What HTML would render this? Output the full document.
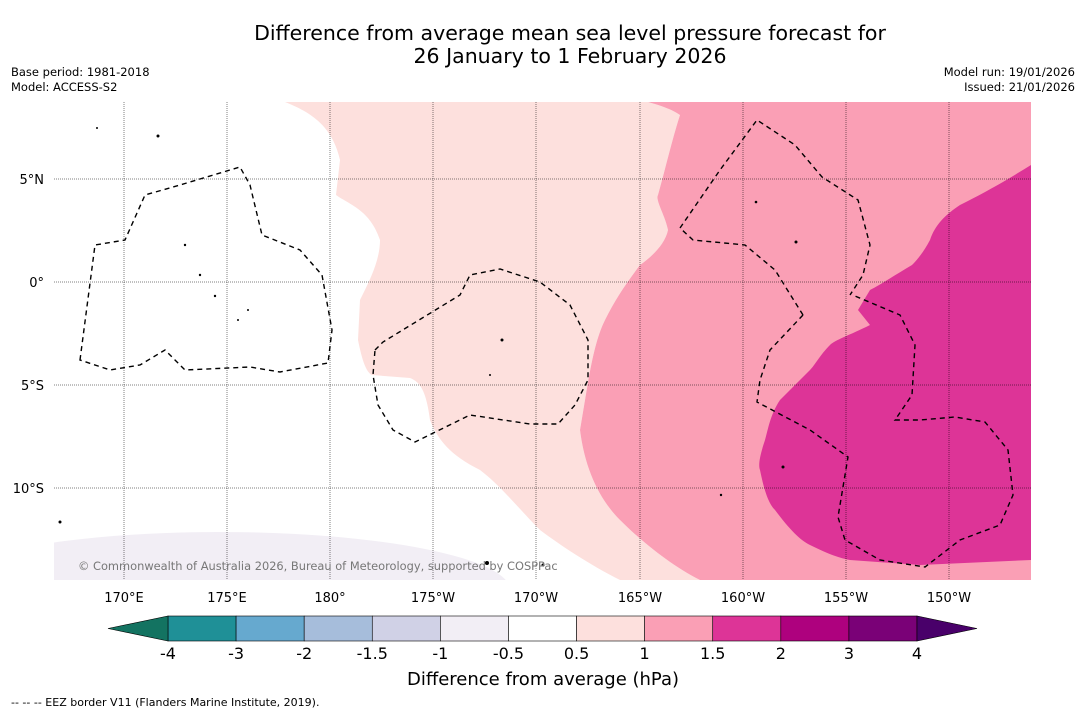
<!DOCTYPE html>
<html><head><meta charset="utf-8"><style>
body{margin:0;background:#fff;font-family:"Liberation Sans","DejaVu Sans",sans-serif;}
#wrap{position:relative;width:1085px;height:713px;overflow:hidden;background:#fff}
.t{position:absolute;white-space:nowrap;color:#000}
</style></head><body>
<div id="wrap">
<div class="t" style="left:0;width:1140px;top:22px;text-align:center;font-size:20.5px;line-height:23px;font-family:'DejaVu Sans',sans-serif">Difference from average mean sea level pressure forecast for<br>26 January to 1 February 2026</div>
<div class="t" style="left:11px;top:65px;font-size:11.5px;line-height:15px;font-family:'DejaVu Sans',sans-serif">Base period: 1981-2018<br>Model: ACCESS-S2</div>
<div class="t" style="right:10px;top:65px;font-size:11.5px;line-height:15px;text-align:right;font-family:'DejaVu Sans',sans-serif">Model run: 19/01/2026<br>Issued: 21/01/2026</div>
<svg id="map" width="1085" height="713" style="position:absolute;left:0;top:0" font-family="DejaVu Sans, sans-serif">
<defs><clipPath id="mc"><rect x="54" y="102" width="977" height="478"/></clipPath></defs>
<g clip-path="url(#mc)">
<rect x="54" y="102" width="977" height="478" fill="#fff"/>
<ellipse cx="220" cy="590" rx="290" ry="58" fill="#f2eef5"/>
<path fill="#fde0dd" d="M285,102 C310,112 332,125 340,160 L336,195 C350,205 370,210 380,240 C380,260 370,280 360,300 L358,340 C362,360 366,372 372,375 L410,378 C420,382 426,390 430,420 C438,440 450,455 480,470 C500,485 520,510 540,530 C560,545 590,565 620,580 L700,580 C670,565 640,540 620,520 C600,500 585,470 580,430 L585,400 C590,370 595,340 605,320 C615,300 625,285 640,265 C650,258 665,245 668,230 C665,215 655,200 658,195 C665,170 672,140 680,115 C670,108 655,104 648,102 Z"/>
<path fill="#fa9fb5" d="M648,102 L1031,102 L1031,580 L700,580 C670,565 640,540 620,520 C600,500 585,470 580,430 L585,400 C590,370 595,340 605,320 C615,300 625,285 640,265 C650,258 665,245 668,230 C665,215 655,200 658,195 C665,170 672,140 680,115 C670,108 655,104 648,102 Z"/>
<path fill="#dd3497" d="M1031,165 C1010,178 990,190 960,205 C945,215 935,225 930,240 C922,255 915,262 912,265 C895,275 880,285 870,290 L858,310 L870,325 C850,335 835,340 830,345 C820,355 815,365 810,370 C800,380 790,390 780,400 C770,415 768,430 765,440 C760,455 758,465 760,470 C765,495 770,505 775,510 C790,530 800,540 810,545 C830,555 840,558 850,560 L920,565 L1031,560 Z"/>
<g stroke="#000" stroke-width="0.5" stroke-dasharray="1,1" fill="none">
<line x1="124" y1="102" x2="124" y2="580"/><line x1="227" y1="102" x2="227" y2="580"/><line x1="330" y1="102" x2="330" y2="580"/><line x1="433" y1="102" x2="433" y2="580"/><line x1="536" y1="102" x2="536" y2="580"/><line x1="640" y1="102" x2="640" y2="580"/><line x1="743" y1="102" x2="743" y2="580"/><line x1="846" y1="102" x2="846" y2="580"/><line x1="949" y1="102" x2="949" y2="580"/>
<line x1="54" y1="179" x2="1031" y2="179"/><line x1="54" y1="282" x2="1031" y2="282"/><line x1="54" y1="385" x2="1031" y2="385"/><line x1="54" y1="488" x2="1031" y2="488"/>
</g>
<g stroke="#000" stroke-width="1.4" stroke-dasharray="5,4" fill="none">
<path d="M80,360 L95,245 L125,240 L145,195 L180,185 L240,167 L250,185 L262,235 L300,250 L322,275 L332,330 L328,363 L280,372 L250,367 L185,370 L165,350 L140,365 L110,370 Z"/>
<path d="M375,350 L383,342 L460,295 L470,275 L500,269 L540,282 L570,305 L588,340 L588,380 L575,405 L558,424 L530,424 L470,415 L415,442 L393,430 L378,405 L373,375 Z"/>
<path d="M803,315 L775,270 L745,245 L693,240 L680,228 L720,170 L757,120 L795,145 L822,177 L858,200 L870,245 L863,275 L850,295"/>
<path d="M803,315 L770,350 L760,380 L757,402 L810,430 L848,457 L838,517 L845,540 L880,560 L925,567 L960,540 L1000,525 L1013,495 L1008,450 L985,422 L955,417 L920,420 L895,420 L912,395 L915,345 L900,315 L855,296"/>
</g>
<g fill="#000">
<circle cx="185" cy="245" r="1.2"/><circle cx="200" cy="275" r="1.2"/><circle cx="215" cy="296" r="1.2"/><circle cx="238" cy="320" r="1"/><circle cx="248" cy="310" r="1"/><circle cx="158" cy="136" r="1.5"/><circle cx="97" cy="128" r="1"/><circle cx="502" cy="340" r="1.5"/><circle cx="490" cy="375" r="1"/><circle cx="756" cy="202" r="1.3"/><circle cx="796" cy="242" r="1.5"/><circle cx="783" cy="467" r="1.5"/><circle cx="721" cy="495" r="1.2"/><circle cx="60" cy="522" r="1.5"/><circle cx="487" cy="563" r="2"/><circle cx="543" cy="565" r="1.5"/>
</g>
<text x="78" y="570" font-size="11.4" fill="#777">© Commonwealth of Australia 2026, Bureau of Meteorology, supported by COSPPac</text>
</g>
<g font-size="13" fill="#000">
<text x="124" y="602" text-anchor="middle">170°E</text><text x="227" y="602" text-anchor="middle">175°E</text><text x="330" y="602" text-anchor="middle">180°</text><text x="433" y="602" text-anchor="middle">175°W</text><text x="536" y="602" text-anchor="middle">170°W</text><text x="640" y="602" text-anchor="middle">165°W</text><text x="743" y="602" text-anchor="middle">160°W</text><text x="846" y="602" text-anchor="middle">155°W</text><text x="949" y="602" text-anchor="middle">150°W</text>
<text x="44" y="184" text-anchor="end">5°N</text><text x="44" y="287" text-anchor="end">0°</text><text x="44" y="390" text-anchor="end">5°S</text><text x="44" y="493" text-anchor="end">10°S</text>
</g>
<g id="cbar"></g>
<text x="543" y="685" font-size="18" text-anchor="middle">Difference from average (hPa)</text>
<text x="11" y="706" font-size="11">--  --  -- EEZ border V11 (Flanders Marine Institute, 2019).</text>
</svg>
</div>
<script>
const levels=["-4","-3","-2","-1.5","-1","-0.5","0.5","1","1.5","2","3","4"];
const binColors=["#1f9097","#66a9cf","#a6bddb","#d0d1e6","#f2eef5","#ffffff","#fde0dd","#fa9fb5","#dd3497","#ae017e","#7a0177"];
const extColors=["#137361","#49006a"];
const ns="http://www.w3.org/2000/svg";
const g=document.getElementById('cbar');
const x0=168,x1=917,y0=616,h=25,w=(x1-x0)/binColors.length;
function xs(i){return x0+i*w;}
binColors.forEach((c,i)=>{const r=document.createElementNS(ns,'rect');
r.setAttribute('x',xs(i));r.setAttribute('y',y0);r.setAttribute('width',w);r.setAttribute('height',h);r.setAttribute('fill',c);r.setAttribute('stroke','#000');r.setAttribute('stroke-width','0.6');


g.appendChild(r);});
const tl=document.createElementNS(ns,'polygon');
tl.setAttribute('points',`${x0},${y0} ${x0},${y0+h} 108,${y0+h/2}`);tl.setAttribute('fill',extColors[0]);tl.setAttribute('stroke','#000');tl.setAttribute('stroke-width','0.6');


g.appendChild(tl);
const tr=document.createElementNS(ns,'polygon');
tr.setAttribute('points',`${x1},${y0} ${x1},${y0+h} 977,${y0+h/2}`);tr.setAttribute('fill',extColors[1]);tr.setAttribute('stroke','#000');tr.setAttribute('stroke-width','0.6');


g.appendChild(tr);
levels.forEach((l,i)=>{const t=document.createElementNS(ns,'text');
t.setAttribute('x',xs(i));t.setAttribute('y',659);t.setAttribute('font-size','16');t.setAttribute('text-anchor','middle');t.textContent=l;


g.appendChild(t);});
</script>
</body></html>
